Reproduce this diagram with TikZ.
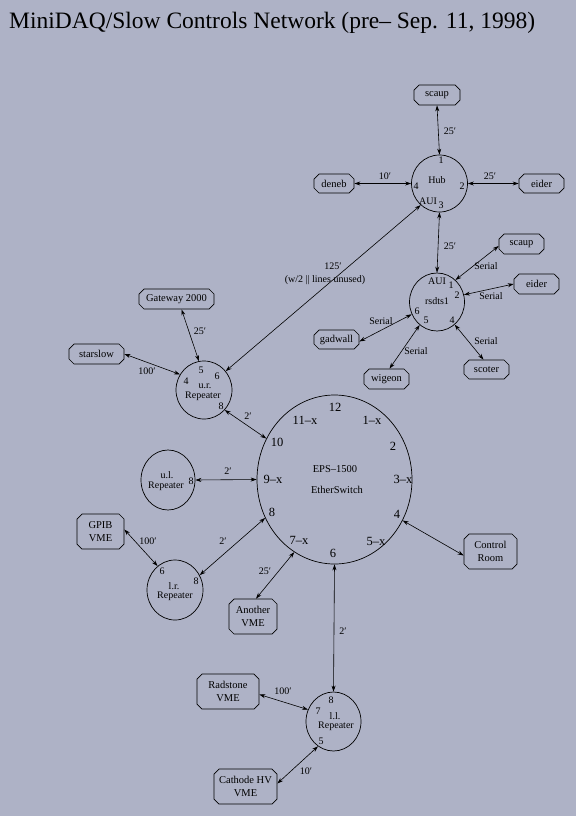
\documentclass[tikz,border=0pt]{standalone}
\usepackage{fontspec}
\setmainfont{Liberation Serif}
\usetikzlibrary{shapes.geometric,shapes.misc,arrows.meta}
\definecolor{bgc}{RGB}{174,178,198}
\newcommand\ft{\char"2032\relax}
\begin{document}
\begin{tikzpicture}[x=1pt,y=-1pt,
  dev/.style={draw, chamfered rectangle, chamfered rectangle xsep=2.5pt,
    chamfered rectangle ysep=2.5pt, inner sep=0pt, line width=0.7pt,
    font=\fontsize{10.5}{13}\selectfont, align=center},
  hubnode/.style={draw, ellipse, inner sep=0pt, line width=0.7pt},
  lbl/.style={inner sep=0pt, font=\fontsize{10}{11}\selectfont},
  big/.style={inner sep=0pt, font=\fontsize{12.5}{14}\selectfont},
  conn/.style={line width=0.6pt,
    {Stealth[length=6pt,width=4pt]}-{Stealth[length=6pt,width=4pt]}}
]
\useasboundingbox (0,0) rectangle (576,816);
\fill[bgc] (0,0) rectangle (576,816);

% title
\node[anchor=base west, inner sep=0pt, font=\fontsize{23.5}{26}\selectfont] (title) at (9,29)
  {MiniDAQ/Slow Controls Network (pre– Sep. 11, 1998)};

% ---------- hub and nodes ----------
\node[hubnode, minimum width=56pt, minimum height=57pt] (hub) at (439.5,183.5) {};
\node[dev, minimum width=46pt, minimum height=20pt] (scaupA) at (437,95) {scaup};
\node[dev, minimum width=40pt, minimum height=19pt] (deneb) at (334,183.5) {deneb};
\node[dev, minimum width=45pt, minimum height=19pt] (eiderA) at (541.5,183.5) {eider};

\node[lbl] (h1) at (441,160) {1};
\node[lbl] (hh) at (437,180) {Hub};
\node[lbl] (h2) at (462,186) {2};
\node[lbl] (h4) at (416,186) {4};
\node[lbl] (haui) at (428,201) {AUI};
\node[lbl] (h3) at (441,205) {3};

% ---------- rsdts1 ----------
\node[hubnode, minimum width=55pt, minimum height=58pt] (rdts) at (437,302) {};
\node[dev, minimum width=45pt, minimum height=20pt] (scaupB) at (521.5,244) {scaup};
\node[dev, minimum width=45pt, minimum height=20pt] (eiderB) at (536.5,284) {eider};
\node[dev, minimum width=45pt, minimum height=19pt] (gadwall) at (336.5,339.5) {gadwall};
\node[dev, minimum width=45pt, minimum height=20pt] (wigeon) at (386.5,379) {wigeon};
\node[dev, minimum width=45pt, minimum height=19pt] (scoter) at (486.5,369.5) {scoter};

\node[lbl] (raui) at (437,281) {AUI};
\node[lbl] (r1) at (451,285) {1};
\node[lbl] (r2) at (457,295) {2};
\node[lbl] (rn) at (437,301) {rsdts1};
\node[lbl] (r6) at (417,311) {6};
\node[lbl] (r5) at (426,320) {5};
\node[lbl] (r4) at (452,320) {4};

% ---------- u.r. repeater ----------
\node[hubnode, minimum width=56pt, minimum height=58pt] (ur) at (204,390) {};
\node[dev, minimum width=75pt, minimum height=20pt] (gw) at (176.5,299) {Gateway 2000};
\node[dev, minimum width=55pt, minimum height=20pt] (starslow) at (96.5,354) {starslow};
\node[lbl] (u5) at (201,370) {5};
\node[lbl] (u6) at (217,376) {6};
\node[lbl] (u4) at (186,381) {4};
\node[lbl] (uname) at (205,386) {u.r.};
\node[lbl] (urep) at (203,396) {Repeater};
\node[lbl] (u8) at (221,406) {8};

% ---------- EPS-1500 ----------
\node[hubnode, minimum width=155pt, minimum height=169pt] (eps) at (334.5,479.5) {};
\node[big] (e12) at (335,407) {12};
\node[big] (e11) at (305,420) {11–x};
\node[big] (e1) at (372,420) {1–x};
\node[big] (e10) at (277,442) {10};
\node[big] (e2) at (393,446) {2};
\node[big] (e9) at (273,479) {9–x};
\node[big] (e3) at (403,479) {3–x};
\node[big] (e8) at (272,512) {8};
\node[big] (e4) at (397,514) {4};
\node[big] (e7) at (299,540) {7–x};
\node[big] (e5) at (376,541) {5–x};
\node[big] (e6) at (333,553) {6};
\node[lbl, font=\fontsize{10.5}{12}\selectfont] (ename) at (335,469) {EPS–1500};
\node[lbl, font=\fontsize{10.5}{12}\selectfont] (etype) at (337,490) {EtherSwitch};

% ---------- u.l. repeater ----------
\node[hubnode, minimum width=54pt, minimum height=60pt] (ul) at (168,480) {};
\node[lbl] (lname) at (167,475) {u.l.};
\node[lbl] (lrep) at (166,486) {Repeater};
\node[lbl] (l8) at (191,481) {8};

% ---------- l.r. repeater ----------
\node[hubnode, minimum width=56pt, minimum height=60pt] (lr) at (175,590) {};
\node[dev, minimum width=47pt, minimum height=35pt] (gpib) at (100.5,531.5) {GPIB\\VME};
\node[lbl] (q6) at (162,571) {6};
\node[lbl] (q8) at (196,581) {8};
\node[lbl] (qname) at (174,586) {l.r.};
\node[lbl] (qrep) at (175,596) {Repeater};

\node[dev, minimum width=48pt, minimum height=35pt] (another) at (253,616.5) {Another\\VME};
\node[dev, minimum width=53pt, minimum height=35pt] (ctrl) at (490.5,551.5) {Control\\Room};

% ---------- l.l. repeater ----------
\node[hubnode, minimum width=55pt, minimum height=59pt] (ll) at (333.5,721.5) {};
\node[dev, minimum width=62pt, minimum height=35pt] (radstone) at (228,691.5) {Radstone\\VME};
\node[dev, minimum width=63pt, minimum height=35pt] (cathode) at (245.5,786.5) {Cathode HV\\VME};
\node[lbl] (w8) at (331,700) {8};
\node[lbl] (w7) at (318,711) {7};
\node[lbl] (wname) at (335,716) {l.l.};
\node[lbl] (wrep) at (336,726) {Repeater};
\node[lbl] (w5) at (321,741) {5};

% ---------- connectors ----------
\draw[conn] (scaupA.south) -- (hub.north);
\draw[conn] (deneb.east) -- (hub.west);
\draw[conn] (hub.east) -- (eiderA.west);
\draw[conn] (hub.south) -- (rdts.north);
\draw[conn] (hub.229) -- (ur.41);

\draw[conn] (rdts.50) -- ([yshift=-2pt]scaupB.west);
\draw[conn] (rdts.15) -- (eiderB.west);
\draw[conn] (rdts.206) -- ([yshift=-2pt]gadwall.east);
\draw[conn] (rdts.233) -- ([xshift=3pt]wigeon.north);
\draw[conn] (rdts.308) -- ([xshift=-3pt]scoter.north);

\draw[conn] ([xshift=5pt]gw.south) -- (ur.100);
\draw[conn] (starslow.east) -- (ur.147);
\draw[conn] (ur.316) -- (eps.149);
\draw[conn] (ul.east) -- (eps.west);
\draw[conn] (lr.31) -- (eps.209);
\draw[conn] ([yshift=2pt]gpib.east) -- (lr.126);
\draw[conn] ([xshift=3pt]another.north) -- (eps.241);
\draw[conn] (eps.329) -- ([yshift=-4pt]ctrl.west);
\draw[conn] (eps.south) -- (ll.north);
\draw[conn] ([yshift=-3pt]radstone.east) -- (ll.155);
\draw[conn] ([yshift=3pt]cathode.east) -- (ll.238);

% ---------- connector labels ----------
\node[lbl] (c1) at (450,131) {25\ft};
\node[lbl] (c2) at (385,176) {10\ft};
\node[lbl] (c3) at (490,176) {25\ft};
\node[lbl] (c4) at (450,246) {25\ft};
\node[lbl] (c5) at (333,266) {125\ft};
\node[lbl] (c6) at (325,280) {(w/2 || lines unused)};
\node[lbl] (s1) at (486,266) {Serial};
\node[lbl] (s2) at (491,296) {Serial};
\node[lbl] (s3) at (381,321) {Serial};
\node[lbl] (s4) at (416,351) {Serial};
\node[lbl] (s5) at (486,341) {Serial};
\node[lbl] (c7) at (200,331) {25\ft};
\node[lbl] (c8) at (147,371) {100\ft};
\node[lbl] (c9) at (248,416) {2\ft};
\node[lbl] (c10) at (228,471) {2\ft};
\node[lbl] (c11) at (148,541) {100\ft};
\node[lbl] (c12) at (223,541) {2\ft};
\node[lbl] (c13) at (265,571) {25\ft};
\node[lbl] (c14) at (343,631) {2\ft};
\node[lbl] (c15) at (283,691) {100\ft};
\node[lbl] (c16) at (306,771) {10\ft};
\end{tikzpicture}
\end{document}
